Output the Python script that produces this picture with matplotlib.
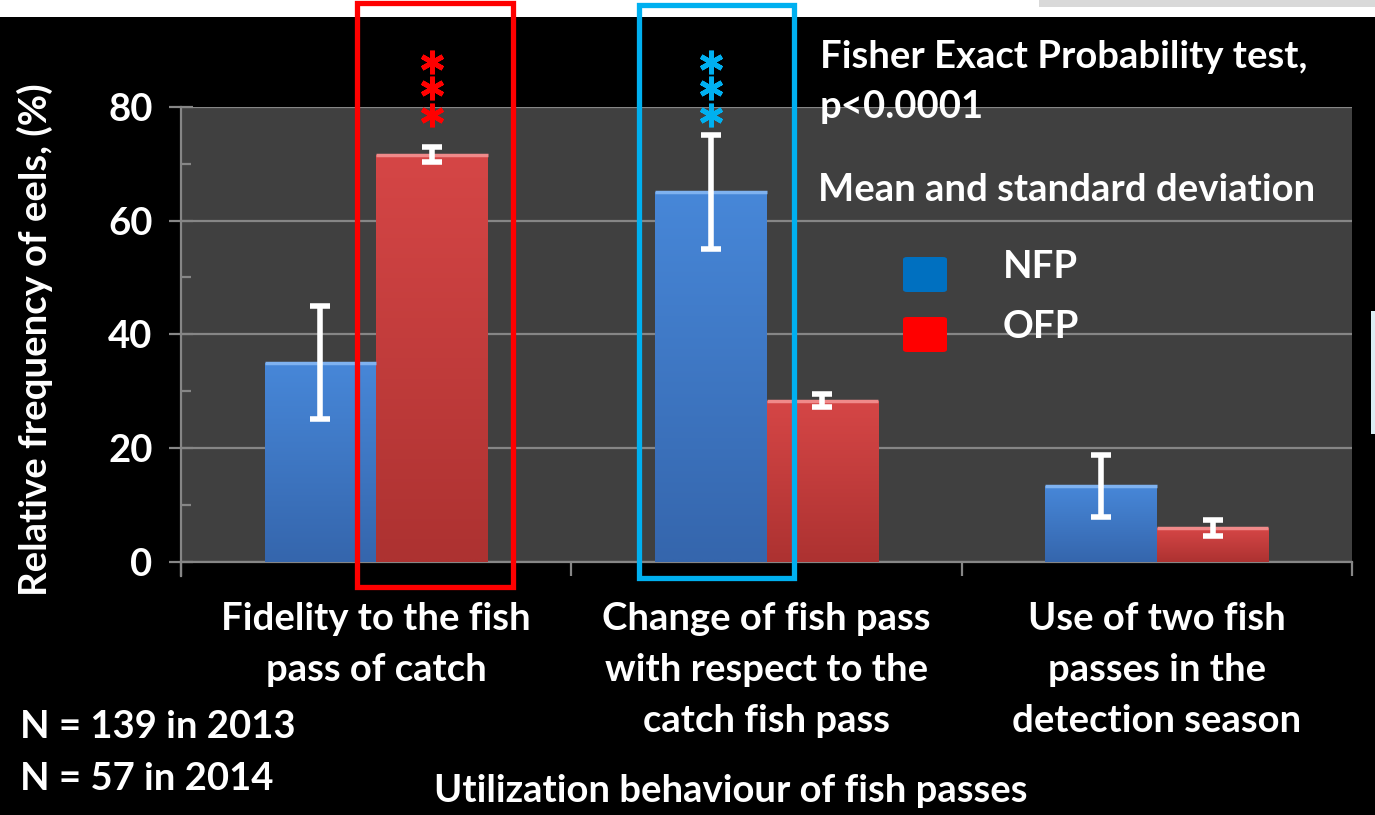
import matplotlib
matplotlib.use("Agg")
import matplotlib.pyplot as plt
import matplotlib.transforms as mtransforms
from matplotlib.patches import Rectangle, FancyBboxPatch
import numpy as np

# ---- data ----
categories = ["Fidelity to the fish\npass of catch",
              "Change of fish pass\nwith respect to the\ncatch fish pass",
              "Use of two fish\npasses in the\ndetection season"]
series_names = ["NFP", "OFP"]
nfp_mean = [35.0, 65.0, 13.3]
nfp_sd = [10.0, 10.0, 5.5]
ofp_mean = [71.6, 28.3, 5.9]
ofp_sd = [1.3, 1.1, 1.4]
y_ticks = [0, 20, 40, 60, 80]
ylabel = "Relative frequency of eels, (%)"
xlabel = "Utilization behaviour of fish passes"
test_text = "Fisher Exact Probability test,\np<0.0001"
mean_text = "Mean and standard deviation"
n_texts = ["N = 139 in 2013", "N = 57 in 2014"]

FONT = ["Lato", "DejaVu Sans"]
plt.rcParams['font.family'] = FONT
plt.rcParams['font.weight'] = 'bold'
FS = 27.5

W, H, DPI = 1375, 815, 100
fig = plt.figure(figsize=(W / DPI, H / DPI), dpi=DPI, facecolor="black")

# white strip on top and small decoration elements
fig.patches.append(Rectangle((0, 1 - 17 / H), 1, 17 / H, transform=fig.transFigure,
                             facecolor="white", edgecolor="none", zorder=0))
fig.patches.append(Rectangle((1039 / W, 1 - 7 / H), 1 - 1039 / W, 7 / H, transform=fig.transFigure,
                             facecolor="#d9d9d9", edgecolor="none", zorder=0))
fig.patches.append(Rectangle((1371 / W, 1 - 434 / H), 4 / W, (434 - 311) / H, transform=fig.transFigure,
                             facecolor="#dbeef4", edgecolor="none", zorder=0))

ax = fig.add_axes([181 / W, 1 - 561.5 / H, (1352 - 181) / W, (561.5 - 107) / H])
ax.set_facecolor("#404040")

x = np.arange(len(categories))
bw = 0.286
blue_bars = ax.bar(x - bw / 2, nfp_mean, bw, color="#3f7bcb", zorder=3, linewidth=0)
red_bars = ax.bar(x + bw / 2, ofp_mean, bw, color="#c9403d", zorder=3, linewidth=0)

# bevel-like gradient shading for bars
def shade(bars, top, bottom, hi):
    for b in bars:
        x0, w, h = b.get_x(), b.get_width(), b.get_height()
        grad = np.linspace(0, 1, 64).reshape(-1, 1)
        c_top = np.array(matplotlib.colors.to_rgb(top))
        c_bot = np.array(matplotlib.colors.to_rgb(bottom))
        img = c_top[None, None, :] * (1 - grad[:, :, None]) + c_bot[None, None, :] * grad[:, :, None]
        im = ax.imshow(img, extent=(x0, x0 + w, 0, h), aspect='auto', zorder=3.1,
                       origin='upper', interpolation='bilinear')
        im.set_clip_path(b)
        ax.plot([x0, x0 + w], [h, h], color=hi, lw=2.5, zorder=3.2, solid_capstyle='butt')

shade(blue_bars, "#4787d8", "#3566ad", "#7fb2f0")
shade(red_bars, "#d54646", "#ad3231", "#f08a8a")

# error bars
for xs, m, s in [(x - bw / 2, nfp_mean, nfp_sd), (x + bw / 2, ofp_mean, ofp_sd)]:
    ax.errorbar(xs, m, yerr=s, fmt='none', ecolor="white",
                elinewidth=4, capsize=7.5, capthick=4, zorder=4)

ax.set_xlim(-0.5, len(categories) - 0.5)
ax.set_ylim(0, 80)
ax.set_yticks(y_ticks)
ax.set_yticks(np.arange(10, 80, 20), minor=True)
ax.yaxis.grid(True, color="#868686", lw=1.6, zorder=1)
ax.set_axisbelow(True)
for s in ["top", "right"]:
    ax.spines[s].set_visible(False)
for s in ["left", "bottom"]:
    ax.spines[s].set_color("#868686")
    ax.spines[s].set_linewidth(1.6)
ax.plot([0, 0], [0, -14 / (561.5 - 107)], transform=ax.transAxes, color="#868686",
        lw=1.6, clip_on=False)

ax.tick_params(axis='y', which='major', direction='inout', length=17, width=1.6,
               color="#868686", labelcolor="white", labelsize=FS, pad=12)
ax.tick_params(axis='y', which='minor', direction='in', length=7.5, width=1.6, color="#868686")
for lab in ax.get_yticklabels():
    lab.set_fontweight('bold')

ax.set_xticks(x)
ax.set_xticklabels(categories, fontsize=FS, color="white", fontweight='bold', linespacing=1.62)
ax.tick_params(axis='x', which='major', length=0, pad=29)
ax.set_xticks(np.arange(-0.5, len(categories), 1.0), minor=True)
ax.tick_params(axis='x', which='minor', direction='out', length=10, width=1.6, color="#868686")

fig.text(35 / W, 1 - 340 / H, ylabel, rotation=90, ha='center', va='center',
         color='white', fontsize=FS, fontweight='bold')
fig.text(731 / W, 1 - 791 / H, xlabel, ha='center', va='center',
         color='white', fontsize=FS, fontweight='bold')
for i, t in enumerate(n_texts):
    fig.text(20 / W, 1 - (727 + 52 * i) / H, t, ha='left', va='center',
             color='white', fontsize=FS, fontweight='bold')
fig.text(820 / W, 1 - 82 / H, test_text, ha='left', va='center', color='white',
         fontsize=FS, fontweight='bold', linespacing=1.55, zorder=5)
fig.text(1067 / W, 1 - 190 / H, mean_text, ha='center', va='center', color='white',
         fontsize=FS, fontweight='bold')

# legend (drawn manually to match the reference spacing)
leg_colors = ["#0070c0", "#ff0000"]
for i, (name, col) in enumerate(zip(series_names, leg_colors)):
    top = 257 + 60 * i
    fig.add_artist(FancyBboxPatch((903 / W, 1 - (top + 35) / H), 44 / W, 35 / H,
                                  boxstyle="round,pad=0,rounding_size=0.003",
                                  transform=fig.transFigure, facecolor=col,
                                  edgecolor='none', zorder=5))
    fig.text(1003 / W, 1 - (top + 10) / H, name, ha='left', va='center', color='white',
             fontsize=FS, fontweight='bold', zorder=5)

# highlight boxes and significance asterisks
trans = mtransforms.blended_transform_factory(ax.transData, fig.transFigure)
box_specs = [(x[0] + bw / 2, 0.008, "#ff0000", 3, 587),
             (x[1] - bw / 2, 0.015, "#00b0f0", 5, 578)]
for cx, off, col, top_px, bot_px in box_specs:
    r = Rectangle((cx + off - 0.199, 1 - bot_px / H), 0.398, (bot_px - top_px) / H,
                  transform=trans, facecolor='none', edgecolor=col, lw=3.8,
                  clip_on=False, zorder=6)
    fig.add_artist(r)
    for py in [62, 88, 115]:
        ax.plot([cx], [1 - py / H], marker=(6, 2, 0), markersize=17, mew=3.5,
                color=col, transform=trans, clip_on=False, zorder=6)

fig.savefig("out.png", dpi=DPI, facecolor="black")
